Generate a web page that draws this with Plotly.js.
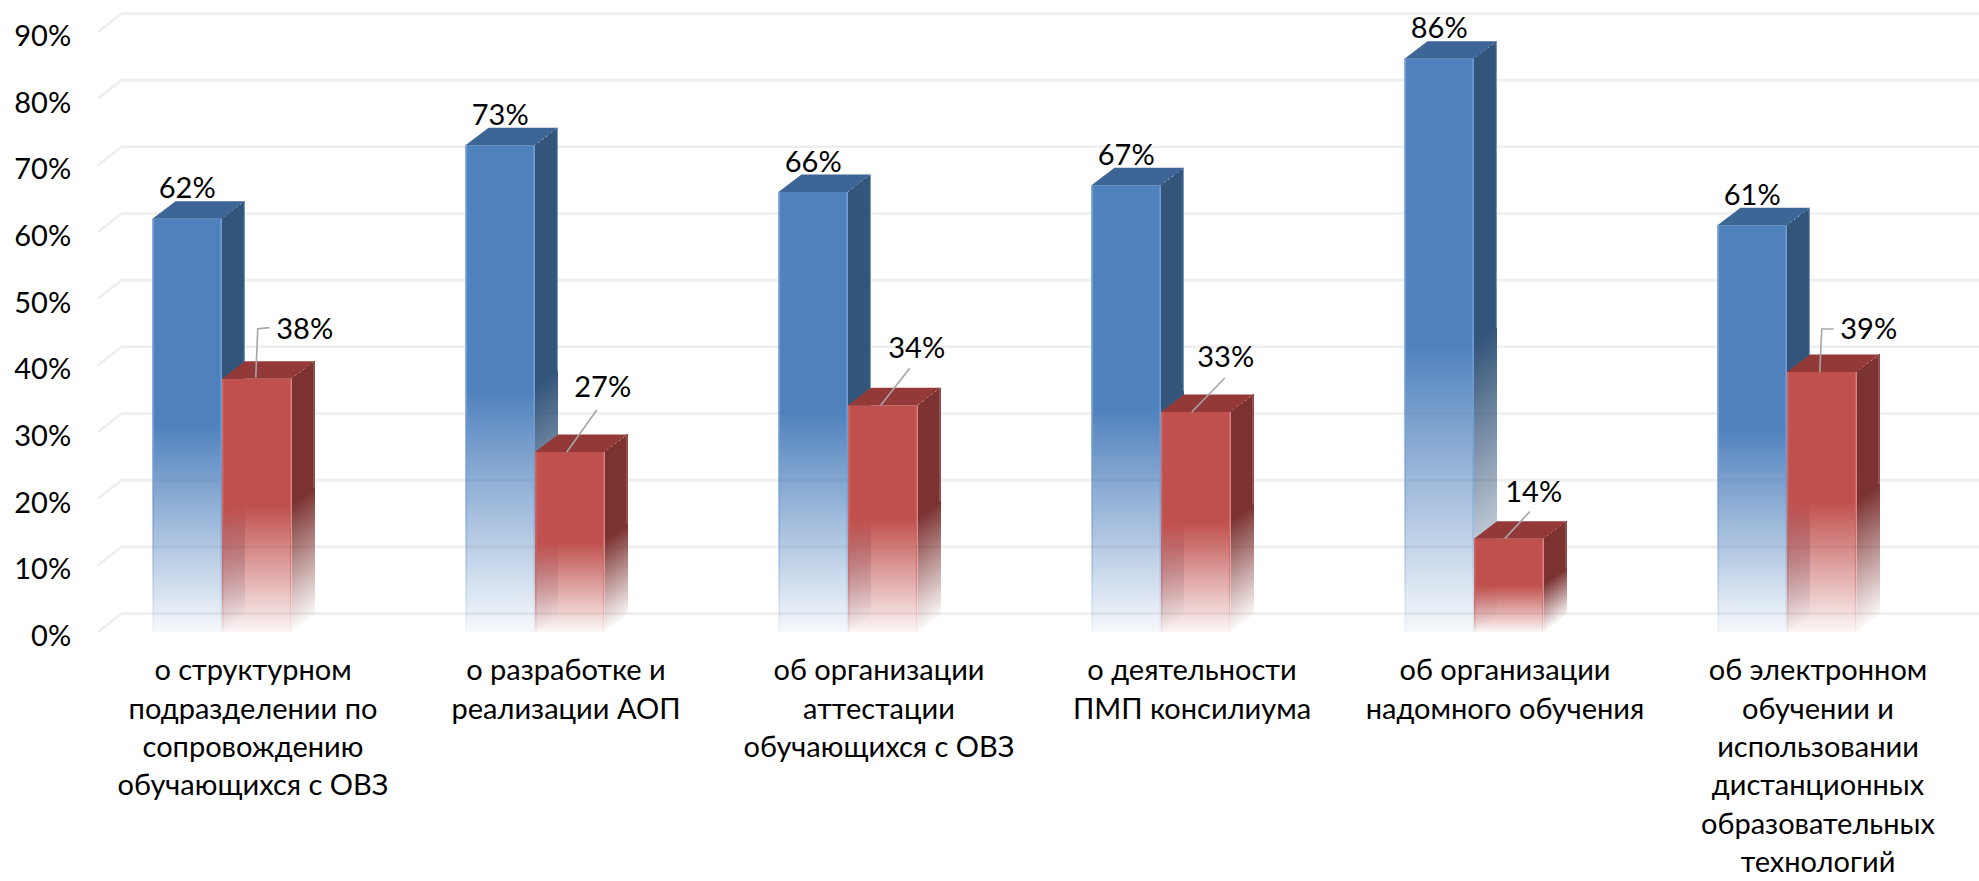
<!DOCTYPE html>
<html><head><meta charset="utf-8">
<script src="https://cdn.plot.ly/plotly-3.0.1.min.js"></script>
<style>html,body{margin:0;padding:0;background:#fff}</style></head>
<body><div id="chart" style="width:1979px;height:881px"></div>
<script>
const categories = [
  'о структурном<br>подразделении по<br>сопровождению<br>обучающихся с ОВЗ',
  'о разработке и<br>реализации АОП',
  'об организации<br>аттестации<br>обучающихся с ОВЗ',
  'о деятельности<br>ПМП консилиума',
  'об организации<br>надомного обучения',
  'об электронном<br>обучении и<br>использовании<br>дистанционных<br>образовательных<br>технологий'
];
const blueValues = [62, 73, 66, 67, 86, 61];
const redValues = [38, 27, 34, 33, 14, 39];
const yTicks = [0, 10, 20, 30, 40, 50, 60, 70, 80, 90];
const yTickLabels = ['0%', '10%', '20%', '30%', '40%', '50%', '60%', '70%', '80%', '90%'];

// pixel scale of the axes
const PITCH = 313, UNIT = 6.667, X0 = 222, Y0 = 632;
const L = 90, W = 1979, H = 881;
const px = p => p / PITCH, py = p => p / UNIT;
const BAR = 69.5 / PITCH, DX = px(23), DY = py(17.5);
const FONT = 'Lato, Carlito, sans-serif';
const TXT = 29;

const traces = [];
const crisp = [];
let scatterCount = 0;
const gx = [], gy = [];
yTicks.forEach(t => {
  gx.push(px(98 - X0), px(121.5 - X0), px(W + 10 - X0), null);
  gy.push(t, t + py(18.5), t + py(18.5), null);
});
traces.push({type:'scatter', mode:'lines', x:gx, y:gy, line:{color:'#EEEEEE', width:2.6}, hoverinfo:'skip', showlegend:false});
scatterCount++;

traces.push({type:'bar', x:categories.map((c,i)=>i), y:blueValues, name:'blue', marker:{color:'rgba(79,129,189,0)', line:{width:0}}, hoverinfo:'y', showlegend:false});
traces.push({type:'bar', x:categories.map((c,i)=>i), y:redValues, name:'red', marker:{color:'rgba(192,80,77,0)', line:{width:0}}, hoverinfo:'y', showlegend:false});

function fade(rgb, a0) {
  return [[0, `rgba(${rgb},${a0})`], [0.5, `rgba(${rgb},1)`], [1, `rgba(${rgb},1)`]];
}
function ramp(rgb, a0) {
  return [[0, `rgba(${rgb},${a0})`], [1, `rgba(${rgb},1)`]];
}
function poly(xs, ys, opt) {
  const t = {type:'scatter', mode:'lines', x:xs.concat(xs[0]), y:ys.concat(ys[0]), fill:'toself', line:{width:0, color:'rgba(0,0,0,0)'}, hoverinfo:'skip', showlegend:false};
  if (opt.grad) t.fillgradient = {type:'vertical', colorscale:opt.grad};
  else t.fillcolor = opt.color;
  if (opt.crisp) crisp.push(scatterCount);
  scatterCount++;
  traces.push(t);
}
const EDGE = px(1.6), STRIPS = 12;
function bar3d(i, v, off, c) {
  const l = i + off, r = l + BAR;
  poly([l, r, r, l], [0, 0, v, v], {grad: fade(c.front, c.a0)});
  poly([l, l + EDGE, l + EDGE, l], [0, 0, v, v], {grad: fade(c.edge, c.a0)});
  poly([r - EDGE, r, r, r - EDGE], [0, 0, v, v], {grad: fade(c.edge, c.a0)});
  // side face: the fade runs along the face, so its lower half follows the slanted floor edge
  poly([r, r + DX, r + DX, r], [v / 2, v / 2 + DY, v + DY, v], {color: `rgb(${c.side})`, crisp:true});
  for (let k = 0; k < STRIPS; k++) {
    const x0 = r + DX * k / STRIPS, x1 = r + DX * (k + 1) / STRIPS;
    const b0 = DY * k / STRIPS, b1 = DY * (k + 1) / STRIPS;
    poly([x0, x1, x1, x0], [b0, b1, v / 2 + b1, v / 2 + b0], {grad: ramp(c.side, 0.02), crisp:true});
  }
  poly([r + DX - EDGE * 0.7, r + DX, r + DX, r + DX - EDGE * 0.7], [DY + v / 2, DY + v / 2, v + DY, v + DY], {color: c.sideEdge});
  poly([l, r, r + DX, l + DX], [v, v, v + DY, v + DY], {color: c.top});
}
const blueStyle = {front:'79,129,189', edge:'112,156,212', side:'52,85,122', sideEdge:'rgb(120,150,190)', top:'#3D6595', a0:0.05};
const redStyle = {front:'192,80,77', edge:'205,100,96', side:'123,50,48', sideEdge:'rgb(165,100,98)', top:'#933A38', a0:0.05};
categories.forEach((c, i) => {
  bar3d(i, blueValues[i], -BAR, blueStyle);
  bar3d(i, redValues[i], 0, redStyle);
});

const leaderOffsets = [
  [[-1,1],[1,50],[13,51]],
  [[-3,0],[27,42]],
  [[-2,0],[27,37]],
  [[-4,0],[29,34]],
  [[-4,0],[21,27]],
  [[-2,0],[0,43],[12,43]]
];
const redLabelOffsets = [[48,47],[33,62],[34,55],[30,52],[25,44],[47,40]];
const lx = [], ly = [];
redValues.forEach((v, i) => {
  const cx = i + BAR / 2;
  leaderOffsets[i].forEach(o => { lx.push(cx + px(o[0])); ly.push(v + py(o[1])); });
  lx.push(null); ly.push(null);
});
traces.push({type:'scatter', mode:'lines', x:lx, y:ly, line:{color:'#A6A6A6', width:1.6}, hoverinfo:'skip', showlegend:false});

traces.push({type:'scatter', mode:'text',
  x:blueValues.map((v,i)=>i - BAR/2), y:blueValues.map(v=>v + DY + py(10)),
  text:blueValues.map(v=>v+'%'), textposition:'middle center',
  textfont:{family:FONT, size:TXT, color:'#000'}, hoverinfo:'skip', showlegend:false, cliponaxis:false});
traces.push({type:'scatter', mode:'text',
  x:redValues.map((v,i)=>i + BAR/2 + px(redLabelOffsets[i][0])), y:redValues.map((v,i)=>v + py(redLabelOffsets[i][1])),
  text:redValues.map(v=>v+'%'), textposition:'middle center',
  textfont:{family:FONT, size:TXT, color:'#000'}, hoverinfo:'skip', showlegend:false, cliponaxis:false});

// line pitch of axis labels follows the axis font; the glyphs keep the body size
const xTickText = categories.map(c => c.split('<br>').map(l => `<span style="font-size:${TXT}px">${l}</span>`).join('<br>'));

const layout = {
  width:W, height:H, paper_bgcolor:'#fff', plot_bgcolor:'#fff', showlegend:false,
  margin:{l:L, r:0, t:0, b:H - Y0, pad:0},
  barmode:'group', bargap:1 - 2 * BAR, bargroupgap:0,
  font:{family:FONT, size:TXT, color:'#000'},
  xaxis:{type:'linear', range:[px(L - X0), px(W - X0)], tickmode:'array',
    tickvals:categories.map((c,i)=>i + px(31)), ticktext:xTickText,
    ticks:'outside', ticklen:12, tickcolor:'rgba(0,0,0,0)', tickangle:0,
    showgrid:false, zeroline:false, showline:false, automargin:false,
    tickfont:{family:FONT, size:29.5, color:'#000'}},
  yaxis:{range:[0, py(Y0)], tickmode:'array', tickvals:yTicks, ticktext:yTickLabels,
    ticks:'outside', ticklen:12, tickcolor:'rgba(0,0,0,0)', ticklabelshift:4,
    showgrid:false, zeroline:false, showline:false, automargin:false,
    tickfont:{family:FONT, size:TXT, color:'#000'}}
};
Plotly.newPlot('chart', traces, layout, {displayModeBar:false, staticPlot:true}).then(() => {
  const groups = document.querySelectorAll('.scatterlayer .trace');
  crisp.forEach(i => {
    if (groups[i]) groups[i].querySelectorAll('path').forEach(p => { p.style.shapeRendering = 'crispEdges'; });
  });
});
</script></body></html>
